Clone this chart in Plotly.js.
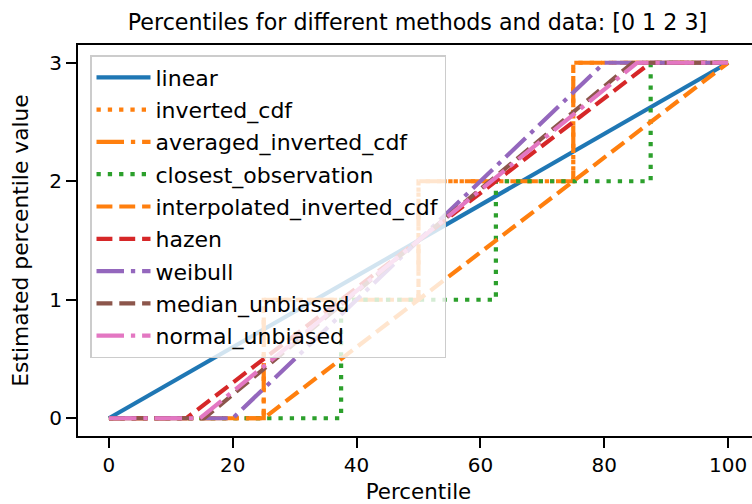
<!DOCTYPE html>
<html>
<head>
<meta charset="utf-8">
<script src="https://cdn.plot.ly/plotly-3.0.1.min.js"></script>
<style>html,body{margin:0;padding:0;overflow:hidden;background:#fff;}#chart{width:762px;height:504px;}</style>
</head>
<body>
<div id="chart"></div>
<script>
// Methods (legend order)
const methods = ['linear','inverted_cdf','averaged_inverted_cdf','closest_observation','interpolated_inverted_cdf','hazen','weibull','median_unbiased','normal_unbiased'];
// Breakpoints (percentile, estimated value)
const linearX = [0, 100];
const linearY = [0, 3];
const invertedX = [0, 25, 25, 50, 50, 75, 75, 100];
const invertedY = [0, 0, 1, 1, 2, 2, 3, 3];
const averagedX = [0, 25, 25, 50, 50, 75, 75, 100];
const averagedY = [0, 0, 1, 1, 2, 2, 3, 3];
const closestX = [0, 37.5, 37.5, 62.5, 62.5, 87.5, 87.5, 100];
const closestY = [0, 0, 1, 1, 2, 2, 3, 3];
const interpX = [0, 25, 100];
const interpY = [0, 0, 3];
const hazenX = [0, 12.5, 87.5, 100];
const hazenY = [0, 0, 3, 3];
const weibullX = [0, 20, 80, 100];
const weibullY = [0, 0, 3, 3];
const medianX = [0, 15.4, 84.6, 100];
const medianY = [0, 0, 3, 3];
const normalX = [0, 14.7, 85.3, 100];
const normalY = [0, 0, 3, 3];
const xTicks = [0, 20, 40, 60, 80, 100];
const yTicks = [0, 1, 2, 3];

const seriesX = [linearX, invertedX, averagedX, closestX, interpX, hazenX, weibullX, medianX, normalX];
const seriesY = [linearY, invertedY, averagedY, closestY, interpY, hazenY, weibullY, medianY, normalY];
const colors = ['#1f77b4','#ff7f0e','#ff7f0e','#2ca02c','#ff7f0e','#d62728','#9467bd','#8c564b','#e377c2'];
const DOT = '4.3px,7px', DASH = '15.9px,6.9px', DASHDOT = '27.5px,6.9px,4.3px,6.9px';
const dashes = ['solid', DOT, DASHDOT, DOT, DASH, DASH, DASHDOT, DASH, DASHDOT];

const FONT = 'DejaVu Sans, sans-serif';
const traces = methods.map((m, i) => ({
  x: seriesX[i], y: seriesY[i], type: 'scatter', mode: 'lines', name: m,
  legendgroup: 'g' + i,
  line: {color: colors[i], width: 4.2, dash: dashes[i]}
}));

const axisCommon = {
  showline: true, mirror: true, linecolor: '#000', linewidth: 2,
  ticks: 'outside', ticklen: 10, tickwidth: 2, tickcolor: '#000',
  showgrid: false, zeroline: false,
  tickfont: {family: FONT, size: 20, color: '#000'}
};

const layout = {
  width: 762, height: 504,
  margin: {l: 78, r: 3, t: 45, b: 68},
  paper_bgcolor: '#fff', plot_bgcolor: '#fff',
  title: {text: 'Percentiles for different methods and data: [0 1 2 3]',
    font: {family: FONT, size: 22.2, color: '#000'},
    x: 417.5/762, xanchor: 'center', xref: 'container', y: 1 - 22.5/504, yanchor: 'middle', yref: 'container'},
  xaxis: Object.assign({}, axisCommon, {range: [-5, 105], tickvals: xTicks, ticktext: xTicks.map(String),
    title: {text: 'Percentile', font: {family: FONT, size: 21.4, color: '#000'}, standoff: 12}}),
  yaxis: Object.assign({}, axisCommon, {range: [-0.15, 3.15], tickvals: yTicks, ticktext: yTicks.map(String),
    title: {text: 'Estimated percentile value', font: {family: FONT, size: 21.8, color: '#000'}, standoff: 15}}),
  showlegend: true,
  legend: {x: 12/681, y: 1 - 10/391, xanchor: 'left', yanchor: 'top',
    bgcolor: 'rgba(255,255,255,0.8)', bordercolor: '#cccccc', borderwidth: 1.5,
    font: {family: FONT, size: 22, color: '#000'},
    traceorder: 'grouped', tracegroupgap: 0.7, itemwidth: 54}
};

Plotly.newPlot('chart', traces, layout, {displayModeBar: false, staticPlot: true});
</script>
</body>
</html>
